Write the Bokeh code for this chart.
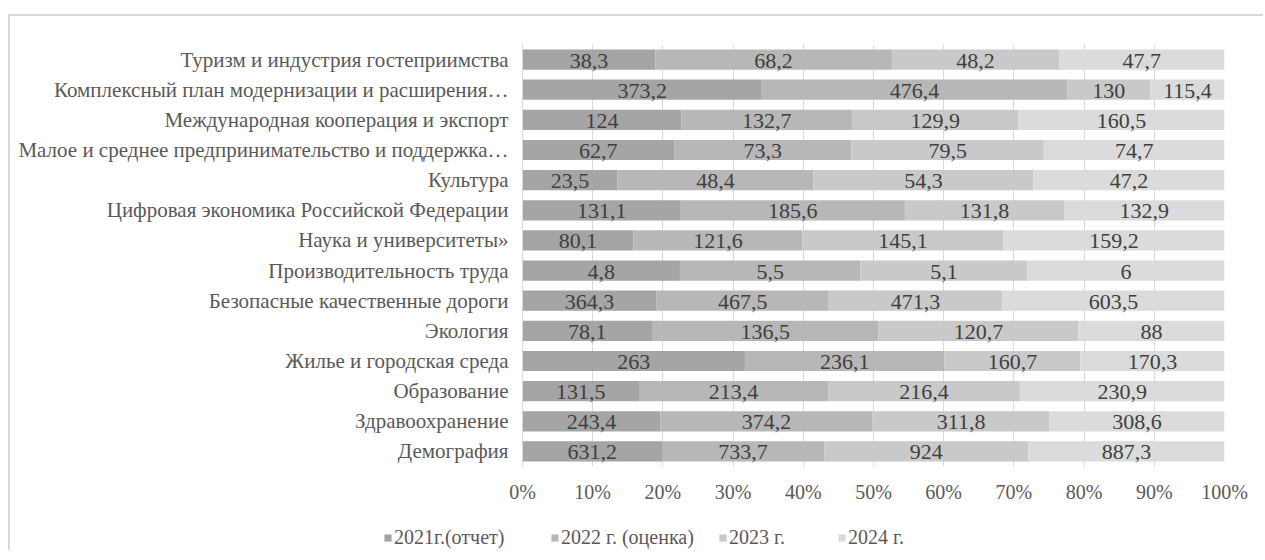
from bokeh.plotting import figure
from bokeh.models import (ColumnDataSource, FactorRange, Range1d, FixedTicker,
                          NumeralTickFormatter, Legend, LegendItem)
from bokeh.core.properties import value
from bokeh.embed import file_html
from bokeh.resources import INLINE

categories = [
    "Туризм и индустрия гостеприимства",
    "Комплексный план модернизации и расширения…",
    "Международная кооперация и экспорт",
    "Малое и среднее предпринимательство и поддержка…",
    "Культура",
    "Цифровая экономика Российской Федерации",
    "Наука и университеты»",
    "Производительность труда",
    "Безопасные качественные дороги",
    "Экология",
    "Жилье и городская среда",
    "Образование",
    "Здравоохранение",
    "Демография",
]
series_names = ["2021г.(отчет)", "2022 г. (оценка)", "2023 г.", "2024 г."]
v2021 = [38.3, 373.2, 124, 62.7, 23.5, 131.1, 80.1, 4.8, 364.3, 78.1, 263, 131.5, 243.4, 631.2]
v2022 = [68.2, 476.4, 132.7, 73.3, 48.4, 185.6, 121.6, 5.5, 467.5, 136.5, 236.1, 213.4, 374.2, 733.7]
v2023 = [48.2, 130, 129.9, 79.5, 54.3, 131.8, 145.1, 5.1, 471.3, 120.7, 160.7, 216.4, 311.8, 924]
v2024 = [47.7, 115.4, 160.5, 74.7, 47.2, 132.9, 159.2, 6, 603.5, 88, 170.3, 230.9, 308.6, 887.3]
x_ticks = [0, 0.1, 0.2, 0.3, 0.4, 0.5, 0.6, 0.7, 0.8, 0.9, 1.0]

colors = ["#a5a5a5", "#b7b7b7", "#c9c9c9", "#dbdbdb"]
FONT = "Liberation Serif"
BORDER = "2px solid #d9d9d9"

series = [v2021, v2022, v2023, v2024]
totals = [sum(s[i] for s in series) for i in range(len(categories))]

p = figure(
    width=1255, height=500,
    y_range=FactorRange(factors=list(reversed(categories))),
    x_range=Range1d(0, 1),
    output_backend="svg", toolbar_location=None,
    min_border_left=512, min_border_right=41,
    min_border_top=28, min_border_bottom=50,
)
p.styles = {"border-top": BORDER, "border-left": BORDER,
            "margin-top": "14px", "margin-left": "8px"}
p.outline_line_color = None

left = [0.0] * len(categories)
label_x, label_y, label_t = [], [], []
for k, s in enumerate(series):
    share = [s[i] / totals[i] for i in range(len(categories))]
    right = [left[i] + share[i] for i in range(len(categories))]
    src = ColumnDataSource(dict(y=categories, left=left, right=right))
    p.hbar(y="y", left="left", right="right", height=0.67, source=src,
           fill_color=colors[k], line_color=None)
    for i in range(len(categories)):
        label_x.append((left[i] + right[i]) / 2)
        label_y.append(categories[i])
        label_t.append(("%g" % s[i]).replace(".", ","))
    left = right

lsrc = ColumnDataSource(dict(x=label_x, y=label_y, t=label_t))
p.text(x="x", y="y", text="t", source=lsrc, text_align="center",
       text_baseline="middle", text_font=value(FONT), text_font_size="22px",
       text_color="#404040", y_offset=1)

p.xaxis.ticker = FixedTicker(ticks=x_ticks)
p.xaxis.formatter = NumeralTickFormatter(format="0%")
p.xaxis.axis_line_color = None
p.xaxis.major_tick_line_color = None
p.xaxis.minor_tick_line_color = None
p.xaxis.major_label_text_font = FONT
p.xaxis.major_label_text_font_size = "20px"
p.xaxis.major_label_text_color = "#595959"
p.xaxis.major_label_standoff = 8

p.yaxis.axis_line_color = "#d9d9d9"
p.yaxis.major_tick_line_color = None
p.yaxis.minor_tick_line_color = None
p.yaxis.major_label_text_font = FONT
p.yaxis.major_label_text_font_size = "21px"
p.yaxis.major_label_text_color = "#595959"
p.yaxis.major_label_standoff = 8

p.xgrid.grid_line_color = "#d9d9d9"
p.ygrid.grid_line_color = None

# legend strip below the chart (separate root so it is not frame-aligned)
q = figure(width=1255, height=36, x_range=Range1d(0, 1), y_range=Range1d(0, 1),
           x_axis_type=None, y_axis_type=None, output_backend="svg",
           toolbar_location=None, min_border=0)
q.styles = {"border-left": BORDER, "margin-left": "8px"}
q.outline_line_color = None
legend_x = [373, 540, 708, 827]
for k in range(4):
    r = q.hbar(y=[5], left=[5], right=[6], height=0.5, fill_color=colors[k], line_color=None)
    lg = Legend(
        items=[LegendItem(label=series_names[k], renderers=[r])],
        location=(legend_x[k], 1),
        glyph_width=9, glyph_height=9, label_standoff=2,
        padding=0, margin=0, border_line_color=None, background_fill_alpha=0,
        label_text_font=FONT, label_text_font_size="20px", label_text_color="#595959",
    )
    q.add_layout(lg, "center")

open("out.html", "w").write(file_html([p, q], INLINE))
